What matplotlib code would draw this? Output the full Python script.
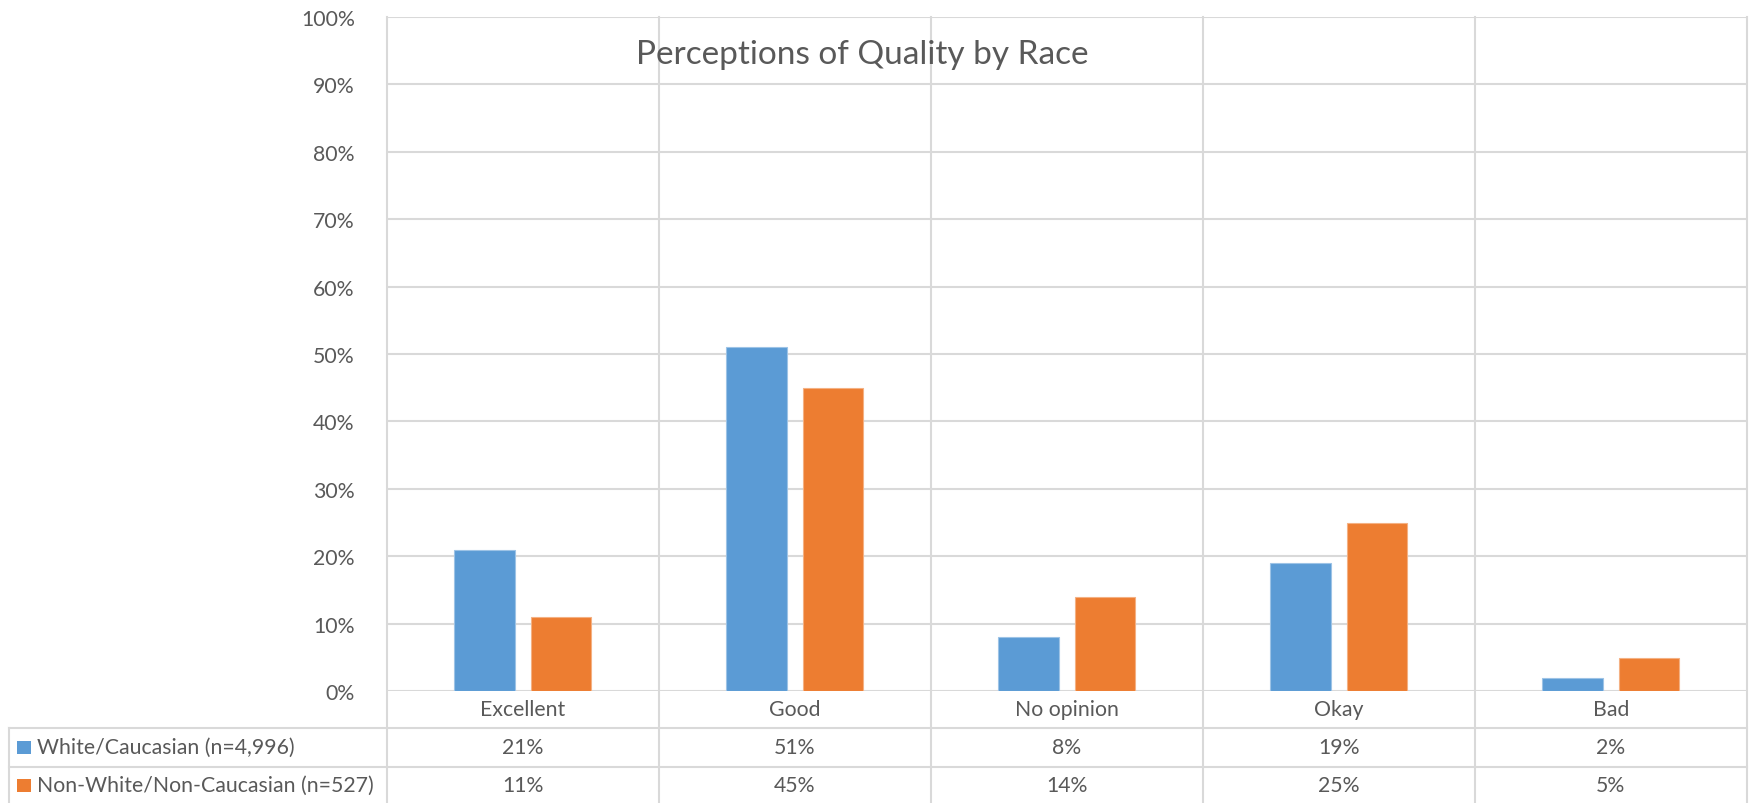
import matplotlib.pyplot as plt
from matplotlib.lines import Line2D
from matplotlib.patches import Rectangle
import matplotlib.transforms as mtransforms
import numpy as np

categories = ['Excellent', 'Good', 'No opinion', 'Okay', 'Bad']
white = [21, 51, 8, 19, 2]
nonwhite = [11, 45, 14, 25, 5]
series_names = ['White/Caucasian (n=4,996)', 'Non-White/Non-Caucasian (n=527)']
title = 'Perceptions of Quality by Race'

blue = '#5B9BD5'
orange = '#ED7D31'
grid_c = '#D9D9D9'
text_c = '#595959'
plt.rcParams['font.family'] = ['Lato', 'DejaVu Sans']
fs = 15.3

W, H = 1750, 804
fig = plt.figure(figsize=(W / 100, H / 100), dpi=100)
fig.patch.set_facecolor('white')

# plot area in pixels
left, right, top, bottom = 386.7, 1746.7, 17.7, 692.3
ax = fig.add_axes([left / W, 1 - bottom / H, (right - left) / W, (bottom - top) / H])
ax.set_xlim(-0.5, len(categories) - 0.5)
ax.set_ylim(0, 100)
for s in ax.spines.values():
    s.set_visible(False)

x = np.arange(len(categories))
bw = 0.222
off = 0.141
ax.bar(x - off, white, bw, color=blue, edgecolor='#9DC3E6', linewidth=0.8, zorder=3)
ax.bar(x + off, nonwhite, bw, color=orange, edgecolor='#F4B183', linewidth=0.8, zorder=3)

# gridlines
for yv in range(0, 101, 10):
    ax.axhline(yv, color=grid_c, lw=1.5, zorder=1)
ax.set_yticks(range(0, 101, 10))
ax.set_yticklabels([f'{v}%' for v in range(0, 101, 10)])
ax.tick_params(axis='y', length=0, pad=23, labelsize=fs, labelcolor=text_c)
ax.set_xticks([])


def fy(px):
    return 1 - px / H


def fx(px):
    return px / W


fig.text(fx(862), fy(64), title, ha='center', va='baseline', fontsize=24, color=text_c)

bt = mtransforms.blended_transform_factory(ax.transData, fig.transFigure)

# vertical lines through plot and table
for b in np.arange(-0.5, len(categories), 1.0):
    fig.add_artist(Line2D([b, b], [fy(top), fy(H + 2)], transform=bt, color=grid_c, lw=1.5, zorder=1))

# table horizontal lines
for r in [729, 767.7]:
    fig.add_artist(Line2D([fx(9), fx(right)], [fy(r), fy(r)], transform=fig.transFigure, color=grid_c, lw=1.5))
fig.add_artist(Line2D([fx(9), fx(9)], [fy(729), fy(H + 2)], transform=fig.transFigure, color=grid_c, lw=1.5))

# category labels
for i, c in enumerate(categories):
    fig.text(i, fy(710.5), c, transform=bt, ha='center', va='center', fontsize=fs, color=text_c)

rows = [white, nonwhite]
colors = [blue, orange]
row_centers = [748, 786]
for vals, name, col, yc in zip(rows, series_names, colors, row_centers):
    fig.add_artist(Rectangle((fx(17.3), fy(yc + 6.5)), fx(13.4), 13 / H, transform=fig.transFigure,
                             facecolor=col, edgecolor='none'))
    fig.text(fx(36.7), fy(yc), name, transform=fig.transFigure, ha='left', va='center',
             fontsize=fs, color=text_c)
    for i, v in enumerate(vals):
        fig.text(i, fy(yc), f'{v}%', transform=bt, ha='center', va='center', fontsize=fs, color=text_c)

fig.savefig('out.png', dpi=100)
